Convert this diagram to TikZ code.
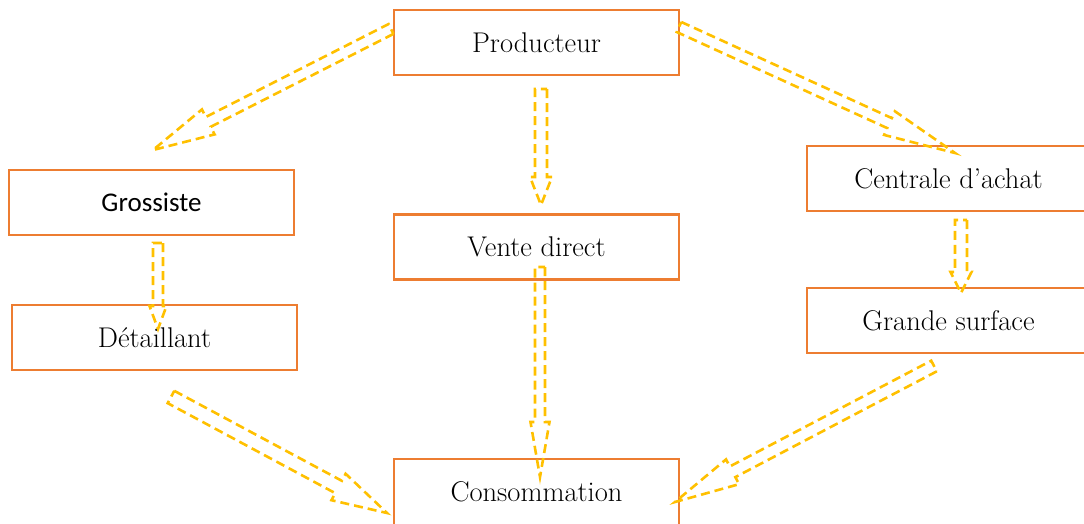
\documentclass[tikz,border=0pt]{standalone}
\usepackage{fontspec}
\usetikzlibrary{calc}
\newfontfamily\calibrifont{Carlito}
\definecolor{boxorange}{HTML}{ED7D31}
\definecolor{flowyellow}{HTML}{FFC000}
\tikzset{
  box/.style={draw=boxorange, line width=2.8pt, fill=white, rectangle,
    minimum width=285pt, minimum height=65pt, inner sep=0pt,
    font=\fontsize{28.5}{32}\selectfont},
  flow/.style={draw=flowyellow, line width=2.6pt, dash pattern=on 9pt off 5pt,
    line join=miter},
}
% hollow block arrow: tail, tip, shaft half-width, head half-width, head length
\newcommand\flecheBloc[5]{%
  \draw[flow]
    ($(#1)!#3!90:(#2)$) --
    ($($(#2)!#5!(#1)$)!#3!-90:(#1)$) --
    ($($(#2)!#5!(#1)$)!#4!-90:(#1)$) --
    (#2) --
    ($($(#2)!#5!(#1)$)!#4!90:(#1)$) --
    ($($(#2)!#5!(#1)$)!#3!90:(#1)$) --
    ($(#1)!#3!-90:(#2)$) -- cycle;}
\begin{document}
\begin{tikzpicture}[x=1pt,y=-1pt]
\useasboundingbox (0,0) rectangle (1084,523);
\clip (0,0) rectangle (1084,523);

% arrow end points
\coordinate (p1) at (391,29);   \coordinate (g0) at (153,150);
\coordinate (p2) at (541,89);   \coordinate (v0) at (541,205);
\coordinate (p3) at (679,27);   \coordinate (c0) at (955,153);
\coordinate (g1) at (158,243);  \coordinate (d0) at (158,329);
\coordinate (c1) at (961,220);  \coordinate (s0) at (961,293);
\coordinate (v1) at (540,267);  \coordinate (k0) at (540,477);
\coordinate (d1) at (171,397);  \coordinate (k1) at (387,513);
\coordinate (s1) at (934,366);  \coordinate (k2) at (675,502);

% boxes
\node[box] (prod) at (536.5,42.5) {Producteur\hspace{20pt}};
\node[box, font=\calibrifont\fontsize{27}{30}\selectfont] (gros) at (151.5,202.5) {Grossiste\hspace{22pt}};
\node[box, minimum width=283pt] (cent) at (948.5,178.5) {Centrale d’achat};
\node[box] (vente) at (536.5,247) {Vente direct\hspace{8pt}};
\node[box] (detail) at (154.5,337.5) {Détaillant\hspace{24pt}};
\node[box, minimum width=283pt] (grande) at (948.5,320.5) {Grande surface};
\node[box, minimum height=66pt] (conso) at (536.5,492) {Consommation};

% flows
\flecheBloc{p1}{g0}{5.5pt}{14pt}{62pt}
\flecheBloc{p2}{v0}{6pt}{11pt}{28pt}
\flecheBloc{p3}{c0}{5.5pt}{13pt}{72pt}
\flecheBloc{g1}{d0}{5pt}{8.5pt}{23pt}
\flecheBloc{c1}{s0}{6pt}{10.5pt}{21pt}
\flecheBloc{v1}{k0}{5pt}{9.5pt}{55pt}
\flecheBloc{d1}{k1}{7pt}{15pt}{55pt}
\flecheBloc{s1}{k2}{6pt}{14pt}{65pt}
\end{tikzpicture}
\end{document}
